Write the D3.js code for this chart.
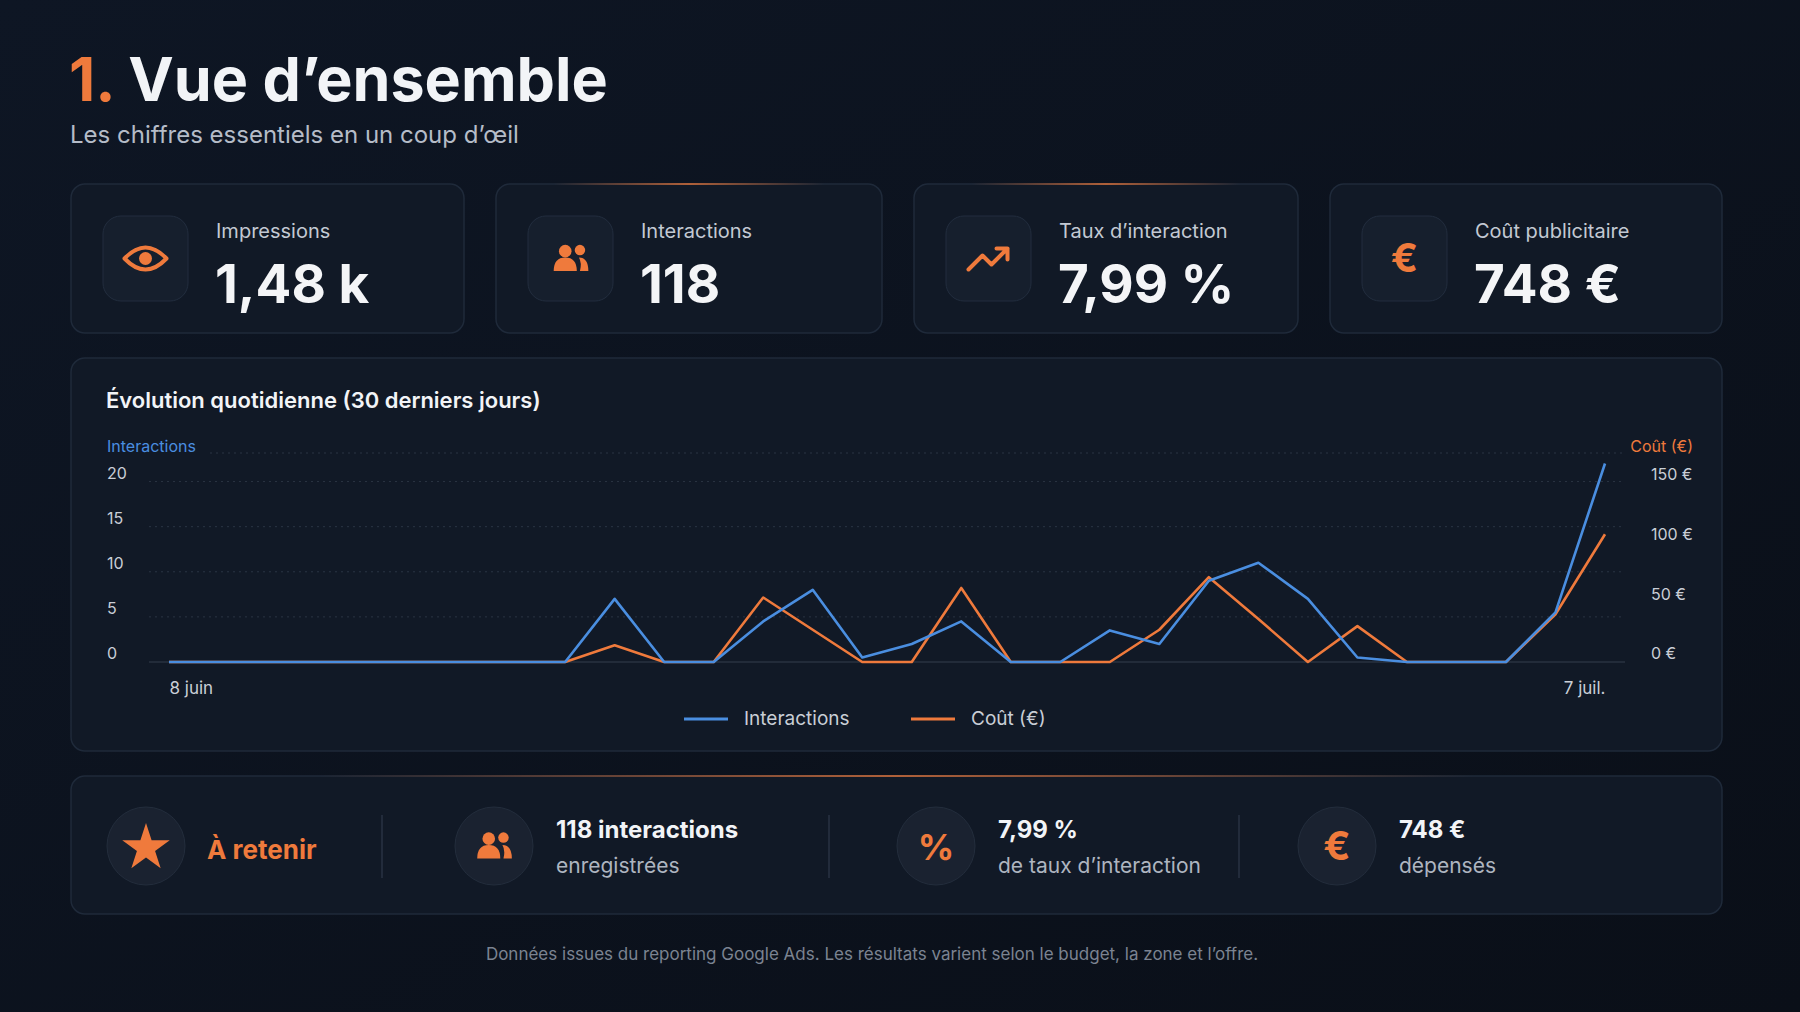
<!DOCTYPE html>
<html>
<head>
<meta charset="utf-8">
<script src="https://cdn.jsdelivr.net/npm/d3@7"></script>
<style>
  html, body { margin: 0; padding: 0; background: #0b111c; }
  svg { display: block; font-family: Inter, "Noto Sans", sans-serif; }
</style>
</head>
<body>
<div id="chart"></div>
<script>
// data
const days = ['8 juin', '9 juin', '10 juin', '11 juin', '12 juin', '13 juin', '14 juin', '15 juin', '16 juin', '17 juin',
  '18 juin', '19 juin', '20 juin', '21 juin', '22 juin', '23 juin', '24 juin', '25 juin', '26 juin', '27 juin',
  '28 juin', '29 juin', '30 juin', '1 juil.', '2 juil.', '3 juil.', '4 juil.', '5 juil.', '6 juil.', '7 juil.']
const interactions = [0, 0, 0, 0, 0, 0, 0, 0, 0, 7, 0, 0, 4.5, 8, 0.5, 2, 4.5, 0, 0, 3.5, 2, 9, 11, 7, 0.5, 0, 0, 0, 5.5, 22]
const cost = [0, 0, 0, 0, 0, 0, 0, 0, 0, 14, 0, 0, 54, 27, 0, 0, 62, 0, 0, 0, 27, 71, 36, 0, 30, 0, 0, 0, 40, 107]
const leftTicks = [0, 5, 10, 15, 20]
const rightTicks = [0, 50, 100, 150]
const kpiLabels = ['Impressions', 'Interactions', "Taux d’interaction", 'Coût publicitaire']
const kpiValues = ['1,48 k', '118', '7,99 %', '748 €']
const takeawayTitles = ['118 interactions', '7,99 %', '748 €']
const takeawaySubs = ['enregistrées', "de taux d’interaction", 'dépensés']

const W = 1800, H = 1012
const ORANGE = '#ef7a3c', BLUE = '#4a8ee0'

const svg = d3.select('#chart').append('svg').attr('width', W).attr('height', H)
const defs = svg.append('defs')

let bg = defs.append('linearGradient').attr('id', 'bg').attr('x1', 0).attr('y1', 0).attr('x2', 1).attr('y2', 1)
bg.append('stop').attr('offset', 0).attr('stop-color', '#0e1624')
bg.append('stop').attr('offset', 1).attr('stop-color', '#0a0f18')
svg.append('rect').attr('width', W).attr('height', H).attr('fill', 'url(#bg)')

let glow = defs.append('linearGradient').attr('id', 'glow')
glow.append('stop').attr('offset', 0).attr('stop-color', ORANGE).attr('stop-opacity', 0)
glow.append('stop').attr('offset', 0.5).attr('stop-color', ORANGE).attr('stop-opacity', 0.7)
glow.append('stop').attr('offset', 1).attr('stop-color', ORANGE).attr('stop-opacity', 0)

function card(x, y, w, h, withGlow) {
    svg.append('rect').attr('x', x).attr('y', y).attr('width', w).attr('height', h)
        .attr('rx', 14).attr('fill', '#111926').attr('stroke', '#1f2a3a').attr('stroke-width', 1.5)
    if (withGlow) {
        svg.append('rect').attr('x', x + w * 0.15).attr('y', y - 1).attr('width', w * 0.7).attr('height', 2)
            .attr('fill', 'url(#glow)')
    }
}

// title
let title = svg.append('text').attr('x', 69).attr('y', 101).attr('font-size', 61).attr('font-weight', 700)
title.append('tspan').attr('fill', ORANGE).text('1. ')
title.append('tspan').attr('fill', '#f2f4f7').text('Vue d’ensemble')
svg.append('text').attr('x', 70).attr('y', 143).attr('font-size', 24).attr('fill', '#b5bcc8')
    .text('Les chiffres essentiels en un coup d’œil')

// KPI cards
const kpiX = [71, 496, 914, 1330]
const kpiW = [393, 386, 384, 392]
kpiX.forEach((x, i) => {
    card(x, 184, kpiW[i], 149, i === 1 || i === 2)
    svg.append('rect').attr('x', x + 32).attr('y', 216).attr('width', 85).attr('height', 85).attr('rx', 18)
        .attr('fill', '#161f2d').attr('stroke', '#222d3e')
    drawIcon(i, x + 74.5, 258.5)
    svg.append('text').attr('x', x + 145).attr('y', 238).attr('font-size', 20).attr('fill', '#c3c9d3')
        .text(kpiLabels[i])
    svg.append('text').attr('x', x + 144).attr('y', 303).attr('font-size', 53).attr('font-weight', 700)
        .attr('fill', '#f4f5f7').text(kpiValues[i])
})

function drawUsers(g, s) {
    g.append('circle').attr('cx', -5 * s).attr('cy', -7 * s).attr('r', 6 * s).attr('fill', ORANGE)
    g.append('path').attr('d', `M${-16 * s},${12 * s} Q${-16 * s},${-1 * s} ${-5 * s},${-1 * s} Q${6 * s},${-1 * s} ${6 * s},${12 * s} Z`).attr('fill', ORANGE)
    g.append('circle').attr('cx', 9 * s).attr('cy', -8 * s).attr('r', 5 * s).attr('fill', ORANGE)
    g.append('path').attr('d', `M${9 * s},${12 * s} L${17 * s},${12 * s} Q${17 * s},${-1 * s} ${8 * s},${-1 * s} Q${11 * s},${4 * s} ${9 * s},${12 * s} Z`).attr('fill', ORANGE)
}

function drawIcon(i, cx, cy) {
    let g = svg.append('g').attr('transform', `translate(${cx},${cy})`)
    if (i === 0) {
        g.append('path').attr('d', 'M-21,0 Q0,-22 21,0 Q0,22 -21,0 Z').attr('fill', 'none')
            .attr('stroke', ORANGE).attr('stroke-width', 4).attr('stroke-linejoin', 'round')
        g.append('circle').attr('r', 6.5).attr('fill', ORANGE)
    } else if (i === 1) {
        drawUsers(g, 1.05)
    } else if (i === 2) {
        g.append('path').attr('d', 'M-20,11 L-6,-3 L3,6 L19,-10 M8,-10 L19,-10 L19,1').attr('fill', 'none')
            .attr('stroke', ORANGE).attr('stroke-width', 4).attr('stroke-linecap', 'round').attr('stroke-linejoin', 'round')
    } else {
        g.append('text').attr('text-anchor', 'middle').attr('dy', 13).attr('font-size', 40).attr('font-weight', 700)
            .attr('fill', ORANGE).text('€')
    }
}

// chart card
card(71, 358, 1651, 393, false)
svg.append('text').attr('x', 106).attr('y', 408).attr('font-size', 22).attr('font-weight', 600)
    .attr('fill', '#f2f4f7').text('Évolution quotidienne (30 derniers jours)')

const x = d3.scalePoint().domain(days).range([169, 1605])
const yL = d3.scaleLinear().domain([0, 22.5]).range([662, 459])
const yR = d3.scaleLinear().domain([0, 170]).range([662, 459])

let grid = svg.append('g')
grid.selectAll('line').data(leftTicks).join('line')
    .attr('x1', 149).attr('x2', 1625).attr('y1', d => yL(d)).attr('y2', d => yL(d))
    .attr('stroke', d => d === 0 ? '#222b39' : '#2a3443').attr('stroke-width', d => d === 0 ? 2 : 1)
    .attr('stroke-dasharray', d => d === 0 ? null : '2,4')
svg.append('line').attr('x1', 210).attr('x2', 1625).attr('y1', 453).attr('y2', 453)
    .attr('stroke', '#2a3443').attr('stroke-dasharray', '2,4')

let leftAxis = svg.append('g').attr('transform', 'translate(107,0)')
    .call(d3.axisRight(yL).tickValues(leftTicks).tickSize(0).tickPadding(0))
let rightAxis = svg.append('g').attr('transform', 'translate(1651,0)')
    .call(d3.axisRight(yR).tickValues(rightTicks).tickSize(0).tickPadding(0).tickFormat(d => d + ' €'))
;[leftAxis, rightAxis].forEach(a => {
    a.select('.domain').remove()
    a.selectAll('text').attr('fill', '#c9ced6').attr('font-size', 16).attr('font-family', 'Inter, sans-serif')
        .attr('dy', '-0.2em')
})

svg.append('text').attr('x', 107).attr('y', 452).attr('font-size', 16).attr('fill', BLUE).text('Interactions')
svg.append('text').attr('x', 1693).attr('y', 452).attr('font-size', 16).attr('fill', ORANGE)
    .attr('text-anchor', 'end').text('Coût (€)')

let xAxis = svg.append('g').attr('transform', 'translate(0,674)')
    .call(d3.axisBottom(x).tickValues([days[0], days[days.length - 1]]).tickSize(0).tickPadding(8))
xAxis.select('.domain').remove()
xAxis.selectAll('text').attr('fill', '#c9ced6').attr('font-size', 17).attr('font-family', 'Inter, sans-serif')
    .attr('text-anchor', (d, i) => i === 0 ? 'start' : 'end')

svg.append('path').datum(cost)
    .attr('d', d3.line().x((d, i) => x(days[i])).y(d => yR(d)))
    .attr('fill', 'none').attr('stroke', ORANGE).attr('stroke-width', 2.6).attr('stroke-linejoin', 'round')
svg.append('path').datum(interactions)
    .attr('d', d3.line().x((d, i) => x(days[i])).y(d => yL(d)))
    .attr('fill', 'none').attr('stroke', BLUE).attr('stroke-width', 2.6).attr('stroke-linejoin', 'round')

// legend
const legend = [['Interactions', BLUE, 684], ['Coût (€)', ORANGE, 911]]
legend.forEach(([label, color, lx]) => {
    svg.append('line').attr('x1', lx).attr('x2', lx + 44).attr('y1', 719).attr('y2', 719)
        .attr('stroke', color).attr('stroke-width', 3)
    svg.append('text').attr('x', lx + 60).attr('y', 725).attr('font-size', 19).attr('fill', '#c9ced6').text(label)
})

// takeaway card
card(71, 776, 1651, 138, true)
function disc(cx) {
    svg.append('circle').attr('cx', cx).attr('cy', 846).attr('r', 39).attr('fill', '#1a2230').attr('stroke', '#232d3c')
}
disc(146)
svg.append('path').attr('transform', 'translate(146,848)')
    .attr('d', d3.symbol(d3.symbolStar, 700)()).attr('fill', ORANGE)
svg.append('text').attr('x', 207).attr('y', 859).attr('font-size', 26).attr('font-weight', 700)
    .attr('fill', ORANGE).text('À retenir')

;[382, 829, 1239].forEach(dx => {
    svg.append('line').attr('x1', dx).attr('x2', dx).attr('y1', 815).attr('y2', 878)
        .attr('stroke', '#283243').attr('stroke-width', 1.5)
})

const discX = [494, 936, 1337]
discX.forEach((cx, i) => {
    disc(cx)
    if (i === 0) drawUsers(svg.append('g').attr('transform', `translate(${cx},${846})`), 1.05)
    else svg.append('text').attr('x', cx).attr('y', 860).attr('text-anchor', 'middle').attr('font-size', i === 1 ? 36 : 40)
        .attr('font-weight', 700).attr('fill', ORANGE).text(i === 1 ? '%' : '€')
    svg.append('text').attr('x', cx + 62).attr('y', 838).attr('font-size', 24).attr('font-weight', 700)
        .attr('fill', '#f2f4f7').text(takeawayTitles[i])
    svg.append('text').attr('x', cx + 62).attr('y', 873).attr('font-size', 21).attr('fill', '#aeb5c0')
        .text(takeawaySubs[i])
})

svg.append('text').attr('x', 872).attr('y', 960).attr('text-anchor', 'middle').attr('font-size', 17)
    .attr('fill', '#7b8391').text('Données issues du reporting Google Ads. Les résultats varient selon le budget, la zone et l’offre.')
</script>
</body>
</html>
